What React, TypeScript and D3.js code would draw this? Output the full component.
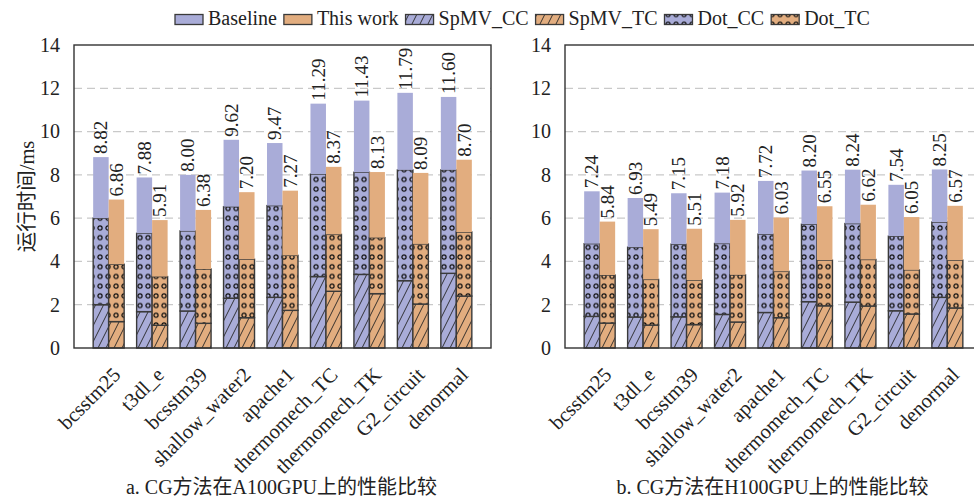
import { useEffect, useRef } from 'react'
import * as d3 from 'd3'

const categories = ['bcsstm25', 't3dl_e', 'bcsstm39', 'shallow_water2', 'apache1', 'thermomech_TC', 'thermomech_TK', 'G2_circuit', 'denormal']

// A100: totals and the two timed parts (SpMV at bottom, Dot above it)
const a100BaseTotal = [8.82, 7.88, 8.0, 9.62, 9.47, 11.29, 11.43, 11.79, 11.6]
const a100SpmvCC = [2.0, 1.68, 1.71, 2.3, 2.34, 3.3, 3.4, 3.11, 3.45]
const a100DotCC = [4.0, 3.62, 3.7, 4.23, 4.24, 4.74, 4.72, 5.12, 4.78]
const a100WorkTotal = [6.86, 5.91, 6.38, 7.2, 7.27, 8.37, 8.13, 8.09, 8.7]
const a100SpmvTC = [1.22, 1.05, 1.14, 1.4, 1.74, 2.62, 2.51, 2.03, 2.4]
const a100DotTC = [2.65, 2.25, 2.51, 2.7, 2.54, 2.63, 2.59, 2.78, 2.96]

// H100
const h100BaseTotal = [7.24, 6.93, 7.15, 7.18, 7.72, 8.2, 8.24, 7.54, 8.25]
const h100SpmvCC = [1.46, 1.43, 1.44, 1.55, 1.64, 2.14, 2.12, 1.72, 2.34]
const h100DotCC = [3.36, 3.23, 3.36, 3.28, 3.62, 3.58, 3.63, 3.45, 3.48]
const h100WorkTotal = [5.84, 5.49, 5.51, 5.92, 6.03, 6.55, 6.62, 6.05, 6.57]
const h100SpmvTC = [1.15, 1.06, 1.08, 1.2, 1.4, 1.95, 1.94, 1.57, 1.85]
const h100DotTC = [2.22, 2.11, 2.06, 2.18, 2.14, 2.11, 2.15, 2.04, 2.21]

const yTicks = [0, 2, 4, 6, 8, 10, 12, 14]
const legendLabels = ['Baseline', 'This work', 'SpMV_CC', 'SpMV_TC', 'Dot_CC', 'Dot_TC']
const titles = ['a. CG方法在A100GPU上的性能比较', 'b. CG方法在H100GPU上的性能比较']

const BLUE = '#a9acd8'
const ORANGE = '#e2ad7f'
const EDGE = '#3a3a3a'
const FONT = '"Liberation Serif", "Times New Roman", "Noto Sans CJK SC", serif'

export default function App() {
  const svgRef = useRef<SVGSVGElement>(null)

  useEffect(() => {
    if (!svgRef.current) return
    const svg = d3.select(svgRef.current)
    svg.selectAll('*').remove()

    const defs = svg.append('defs')
    const addHatch = (id: string, color: string) => {
      const p = defs.append('pattern').attr('id', id)
        .attr('patternUnits', 'userSpaceOnUse').attr('width', 8).attr('height', 16)
      p.append('rect').attr('width', 8).attr('height', 16).attr('fill', color)
      p.append('path').attr('d', 'M0,16 L8,0 M-4,8 L0,0 M8,16 L12,8')
        .attr('stroke', '#222').attr('stroke-width', 0.9).attr('fill', 'none')
    }
    const addDots = (id: string, color: string) => {
      const p = defs.append('pattern').attr('id', id)
        .attr('patternUnits', 'userSpaceOnUse').attr('width', 8).attr('height', 9.7)
      p.append('rect').attr('width', 8).attr('height', 9.7).attr('fill', color)
      p.append('circle').attr('cx', 4).attr('cy', 4.8).attr('r', 2.1)
        .attr('fill', 'none').attr('stroke', '#111').attr('stroke-width', 1.2)
    }
    addHatch('hatch-b', BLUE)
    addHatch('hatch-o', ORANGE)
    addDots('dots-b', BLUE)
    addDots('dots-o', ORANGE)

    const y = d3.scaleLinear().domain([0, 14]).range([348, 45])

    const panels = [
      { x0: 74, x1: 491, base: [a100BaseTotal, a100SpmvCC, a100DotCC], work: [a100WorkTotal, a100SpmvTC, a100DotTC], title: titles[0] },
      { x0: 565, x1: 982, base: [h100BaseTotal, h100SpmvCC, h100DotCC], work: [h100WorkTotal, h100SpmvTC, h100DotTC], title: titles[1] },
    ]

    const keys = ['spmv', 'dot', 'rest']

    panels.forEach((pn) => {
      const g = svg.append('g')
      const x = d3.scaleBand().domain(categories).range([pn.x0, pn.x1])
        .paddingInner(0.287).paddingOuter(0.441)
      const xs = d3.scaleBand().domain(['base', 'work']).range([0, x.bandwidth()])

      // gridlines
      g.append('g').selectAll('line')
        .data(yTicks.filter((t) => t > 0 && t < 14))
        .join('line')
        .attr('x1', pn.x0).attr('x2', pn.x1)
        .attr('y1', (d) => y(d)).attr('y2', (d) => y(d))
        .attr('stroke', '#c9c9c9').attr('stroke-width', 1.2)
        .attr('stroke-dasharray', '8,5')

      const series = [
        { id: 'base', vals: pn.base, color: BLUE, hatch: 'url(#hatch-b)', dots: 'url(#dots-b)' },
        { id: 'work', vals: pn.work, color: ORANGE, hatch: 'url(#hatch-o)', dots: 'url(#dots-o)' },
      ]

      series.forEach((s) => {
        const [tot, spmv, dot] = s.vals
        const rows = categories.map((c, i) => ({
          cat: c,
          spmv: spmv[i],
          dot: dot[i],
          rest: tot[i] - spmv[i] - dot[i],
          total: tot[i],
        }))
        const stacked = d3.stack<any>().keys(keys)(rows)
        const fills: Record<string, string> = { spmv: s.hatch, dot: s.dots, rest: s.color }

        stacked.forEach((layer) => {
          g.append('g').selectAll('rect')
            .data(layer)
            .join('rect')
            .attr('x', (d: any) => (x(d.data.cat) as number) + (xs(s.id) as number))
            .attr('width', xs.bandwidth())
            .attr('y', (d) => y(d[1]))
            .attr('height', (d) => y(d[0]) - y(d[1]))
            .attr('fill', fills[layer.key])
            .attr('stroke', layer.key === 'rest' ? 'none' : EDGE)
            .attr('stroke-width', 1.4)
        })

        // value labels
        g.append('g').selectAll('text')
          .data(rows)
          .join('text')
          .attr('transform', (d) => {
            const cx = (x(d.cat) as number) + (xs(s.id) as number) + xs.bandwidth() / 2 + 6.5
            return `translate(${cx},${y(d.total) - 3}) rotate(-90)`
          })
          .attr('font-family', FONT).attr('font-size', 19).attr('fill', '#222')
          .text((d) => d.total.toFixed(2))
      })

      // y axis
      const ya = g.append('g').attr('transform', `translate(${pn.x0},0)`)
        .call(d3.axisLeft(y).tickValues(yTicks).tickSize(0).tickPadding(14).tickFormat(d3.format('d')))
      ya.select('.domain').remove()
      ya.selectAll('text').attr('font-family', FONT).attr('font-size', 20).attr('fill', '#222')

      // x axis labels
      const xa = g.append('g').attr('transform', `translate(0,${y(0)})`)
        .call(d3.axisBottom(x).tickSize(0).tickPadding(0))
      xa.select('.domain').remove()
      xa.selectAll('text')
        .attr('font-family', FONT).attr('font-size', 20.5).attr('fill', '#222')
        .attr('text-anchor', 'end').attr('dy', 0).attr('y', 0)
        .attr('transform', 'translate(13,28) rotate(-45)')

      // plot frame
      g.append('rect')
        .attr('x', pn.x0).attr('y', y(14))
        .attr('width', pn.x1 - pn.x0).attr('height', y(0) - y(14))
        .attr('fill', 'none').attr('stroke', '#333').attr('stroke-width', 1.4)

      g.append('text')
        .attr('x', (pn.x0 + pn.x1) / 2 - 1).attr('y', 494)
        .attr('text-anchor', 'middle')
        .attr('font-family', FONT).attr('font-size', 20).attr('fill', '#222')
        .text(pn.title)
    })

    // y label
    svg.append('text')
      .attr('transform', `translate(26.5,${(y(0) + y(14)) / 2}) rotate(-90)`)
      .attr('text-anchor', 'middle').attr('dominant-baseline', 'central')
      .attr('font-family', FONT).attr('font-size', 20.5).attr('fill', '#222')
      .text('运行时间/ms')

    // legend
    const legendFills = [BLUE, ORANGE, 'url(#hatch-b)', 'url(#hatch-o)', 'url(#dots-b)', 'url(#dots-o)']
    let lx = 175
    legendLabels.forEach((lab, i) => {
      svg.append('rect')
        .attr('x', lx).attr('y', 14.5).attr('width', 28).attr('height', 10)
        .attr('fill', legendFills[i]).attr('stroke', EDGE).attr('stroke-width', 1.3)
      const t = svg.append('text')
        .attr('x', lx + 33).attr('y', 25)
        .attr('font-family', FONT).attr('font-size', 20).attr('fill', '#222')
        .text(lab)
      const w = (t.node() as SVGTextElement).getComputedTextLength()
      lx += 33 + w + 7
    })
  }, [])

  return (
    <svg
      ref={svgRef}
      width={974}
      height={503}
      style={{ position: 'absolute', left: 0, top: 0, background: '#fff' }}
    />
  )
}
